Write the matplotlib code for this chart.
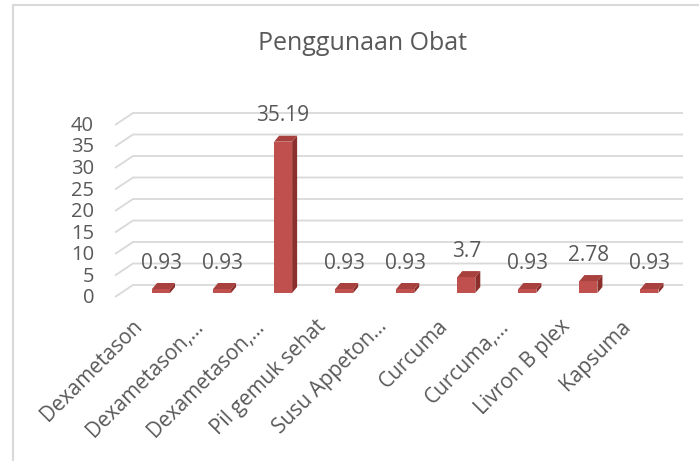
import matplotlib.pyplot as plt
from matplotlib.patches import Polygon, Rectangle

kategori = [
    "Dexametason",
    "Dexametason,…",
    "Dexametason,…",
    "Pil gemuk sehat",
    "Susu Appeton…",
    "Curcuma",
    "Curcuma,…",
    "Livron B plex",
    "Kapsuma",
]
nilai = [0.93, 0.93, 35.19, 0.93, 0.93, 3.7, 0.93, 2.78, 0.93]
labelNilai = ["0.93", "0.93", "35.19", "0.93", "0.93", "3.7", "0.93", "2.78", "0.93"]
tickY = [0, 5, 10, 15, 20, 25, 30, 35, 40]

plt.rcParams["font.family"] = ["Open Sans", "DejaVu Sans"]

warnaTeks = "#595959"
warnaGrid = "#D9D9D9"
warnaDepan = "#C0504D"
warnaAtas = "#A8413E"
warnaSamping = "#8C2F2C"

# skala: piksel per satuan
pxX = 61.06
pxY = 4.3
x0px, y0px = 161, 293  # pusat batang pertama, dasar muka depan

fig = plt.figure(figsize=(6.99, 4.61), dpi=100)
axe = fig.add_axes([0, 0, 1, 1])
axe.set_xlim(-x0px / pxX, (699 - x0px) / pxX)
axe.set_ylim((y0px - 461) / pxY, y0px / pxY)
axe.axis("off")

# dinding belakang: garis grid + diagonal ke depan
geserBelakangY = 8 / pxY
kiriBelakang = (133 - x0px) / pxX
kananBelakang = (683 - x0px) / pxX
kiriDepan = (115 - x0px) / pxX
dalamY = 12 / pxY
for t in tickY:
    yb = t + geserBelakangY
    axe.plot([kiriDepan, kiriBelakang, kananBelakang], [yb - dalamY, yb, yb],
             color=warnaGrid, linewidth=1.3, solid_capstyle="butt", zorder=1)
    axe.text(kiriDepan - 21 / pxX, yb - dalamY - 1 / pxY, str(t), ha="right",
             va="center", fontsize=14.5, color=warnaTeks)

# batang 3D
lebar = 18 / pxX
dx, dy = 5 / pxX, 6 / pxY
posisi = list(range(len(nilai)))
axe.bar(posisi, nilai, width=lebar, color=warnaDepan, zorder=3)
for i, v in zip(posisi, nilai):
    kiri, kanan = i - lebar / 2, i + lebar / 2
    axe.add_patch(Polygon([(kiri, v), (kanan, v), (kanan + dx, v + dy), (kiri + dx, v + dy)],
                          closed=True, facecolor=warnaAtas, edgecolor="none", zorder=3))
    axe.add_patch(Polygon([(kanan, 0), (kanan + dx, dy), (kanan + dx, v + dy), (kanan, v)],
                          closed=True, facecolor=warnaSamping, edgecolor="none", zorder=3))

# label data
for i, v, lbl in zip(posisi, nilai, labelNilai):
    axe.annotate(lbl, xy=(i, v), xytext=(0, 26), textcoords="offset pixels",
                 ha="center", va="center", fontsize=15, color=warnaTeks)

# label kategori
for i, nama in zip(posisi, kategori):
    axe.annotate(nama, xy=(i, 0), xytext=(-29, -23), textcoords="offset pixels",
                 ha="right", va="top", rotation=45, rotation_mode="anchor",
                 fontsize=15, color=warnaTeks)

fig.text(363 / 699, 1 - 44 / 461, "Penggunaan Obat", ha="center", va="center",
         fontsize=18, color=warnaTeks)

# bingkai kiri dan atas
fig.add_artist(Rectangle((12.5 / 699, -0.1), 2, 1.1 - 5.5 / 461,
                         transform=fig.transFigure, fill=False,
                         edgecolor=warnaGrid, linewidth=1.5))

fig.savefig("out.png", dpi=100)
